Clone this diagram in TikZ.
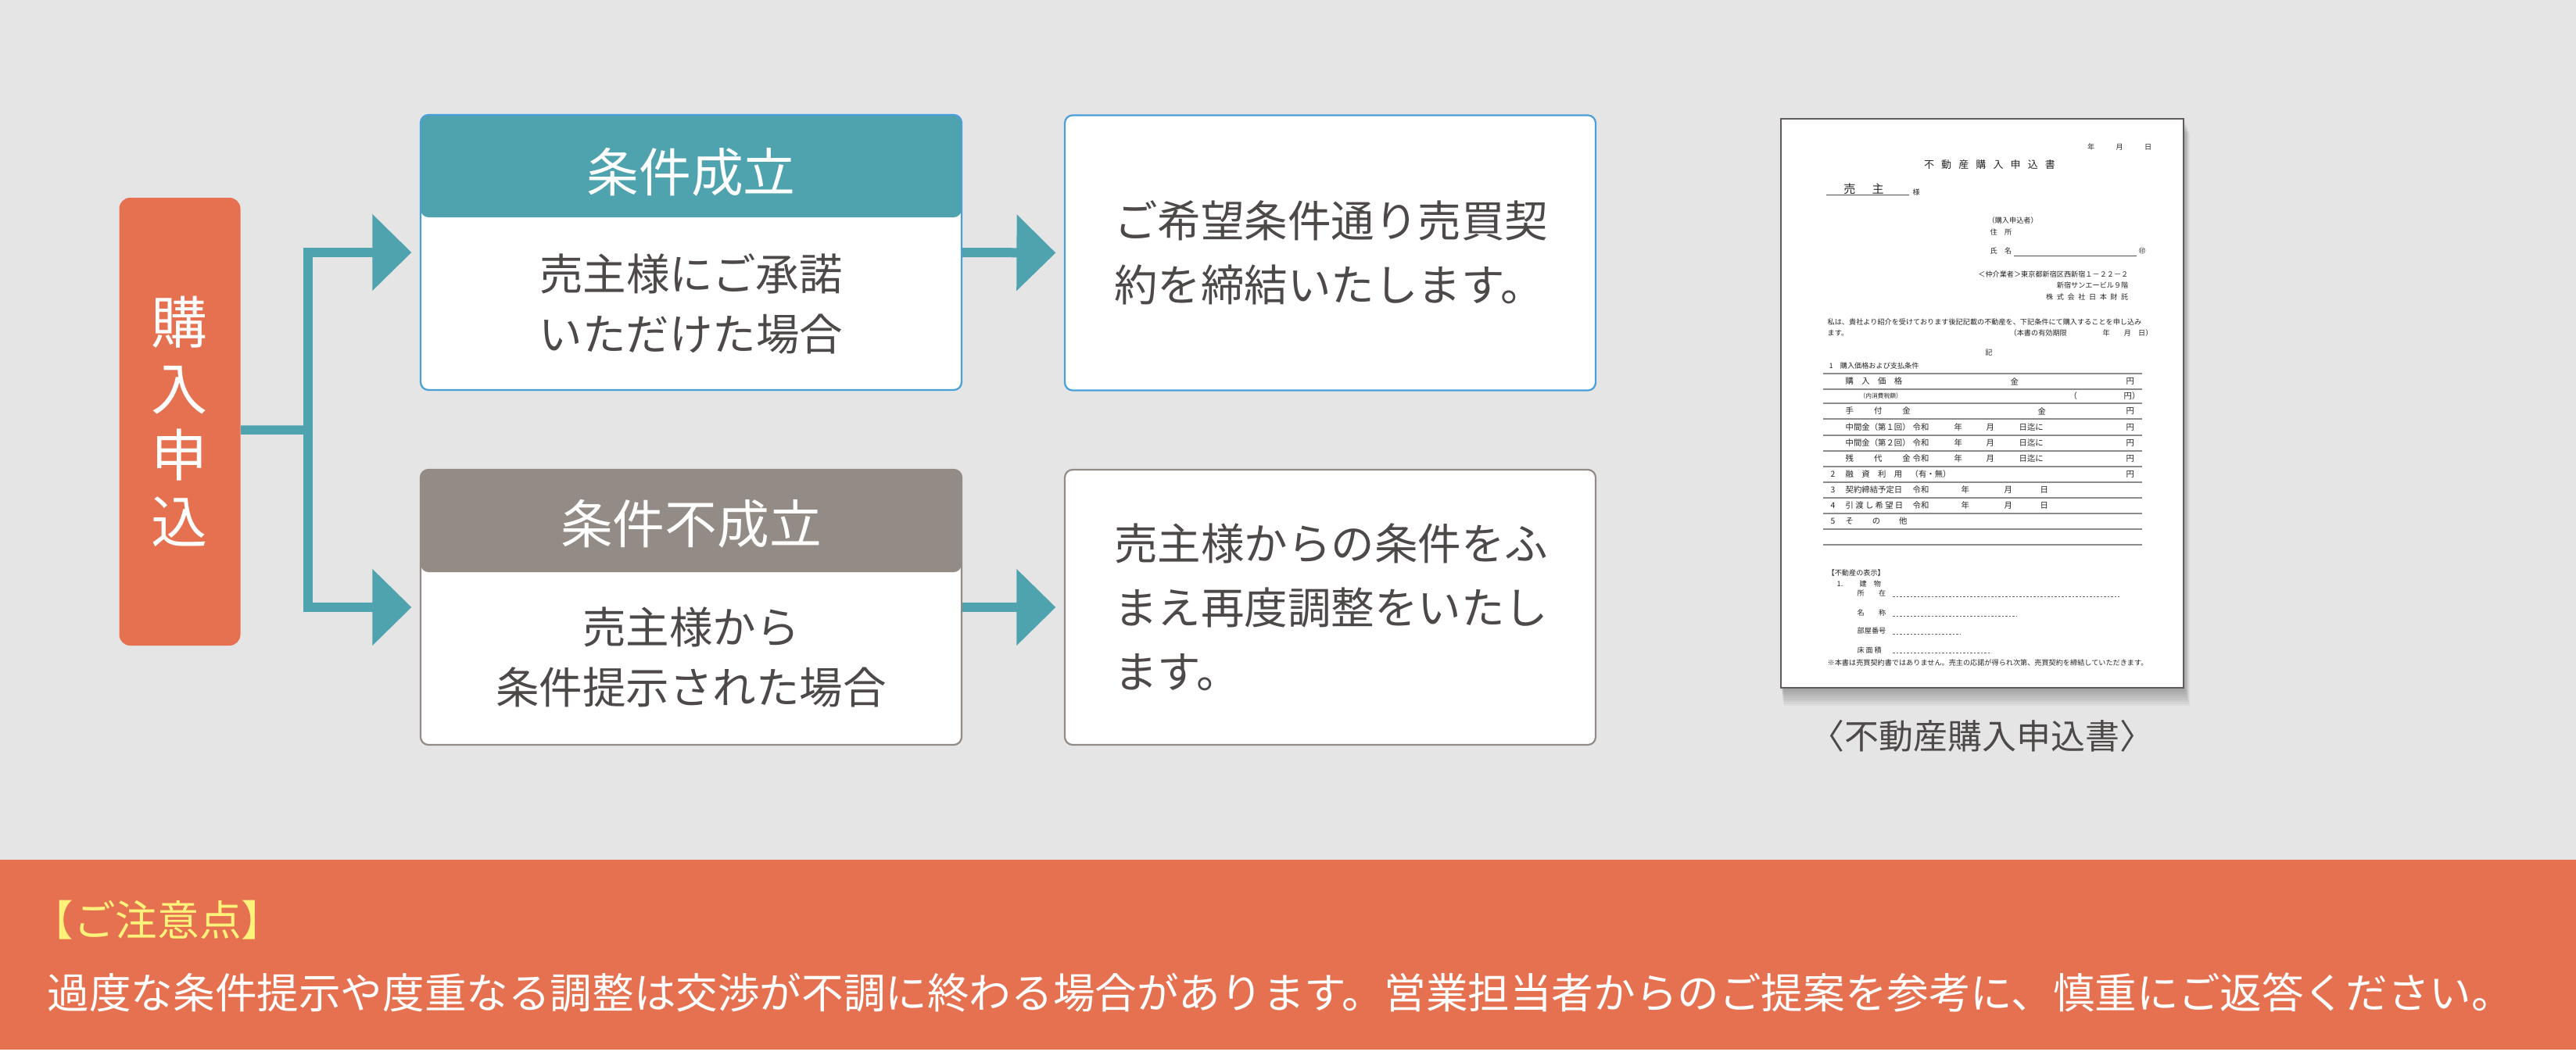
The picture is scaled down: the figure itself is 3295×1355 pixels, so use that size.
\documentclass[tikz,border=0pt]{standalone}
\usepackage{fontspec}
\setmainfont{Noto Sans CJK JP}
\usetikzlibrary{arrows.meta,positioning}

\definecolor{bgGray}{HTML}{E5E5E5}
\definecolor{applyOrange}{HTML}{E57150}
\definecolor{flowTeal}{HTML}{4FA3AE}
\definecolor{okBlue}{HTML}{4A9FDA}
\definecolor{ngGray}{HTML}{938B86}
\definecolor{inkGray}{HTML}{4D4948}
\definecolor{noteYellow}{HTML}{FFF27A}
\definecolor{paperEdge}{HTML}{615C5A}

\begin{document}
\begin{tikzpicture}[x=0.1mm, y=-0.1mm,
		card/.style={rectangle, rounded corners=1mm, fill=white, line width=0.22mm,
			minimum width=69.2mm, minimum height=35.2mm, inner sep=0pt},
		head/.style={text=white, font=\fontsize{19pt}{22pt}\selectfont},
		body/.style={text=inkGray, align=center, font=\fontsize{15.8pt}{21.9pt}\selectfont},
		result/.style={card, minimum width=67.9mm, text width=55.3mm, align=left,
			text=inkGray, font=\fontsize{15.8pt}{23.3pt}\selectfont},
		flow/.style={draw=flowTeal, line width=1.2mm, -{Triangle[width=9.5mm, length=5mm]}, shorten >=1.05mm},
		link/.style={draw=flowTeal, line width=1.15mm},
		ft/.style={inner sep=0pt, text=black!85, font=\fontsize{2.6pt}{3pt}\selectfont},
		ftab/.style={ft, font=\fontsize{2.95pt}{3.4pt}\selectfont},
		fline/.style={black!45, line width=0.12mm},
		fdash/.style={black!60, line width=0.07mm, dash pattern=on 0.25mm off 0.2mm}]

	\useasboundingbox (0,0) rectangle (3295,1355);
	\fill[white] (0,0) rectangle (3295,1355);
	\fill[bgGray] (0,0) rectangle (3295,1100);
	\fill[applyOrange] (0,1100) rectangle (3295,1343);

	% flow
	\node[fill=applyOrange, rounded corners=1.4mm, minimum width=15.5mm, minimum height=57.3mm,
		text=white, align=center, font=\fontsize{20.5pt}{24.2pt}\selectfont] (apply) at (230,539.5) {購\\入\\申\\込};

	\node[card, draw=okBlue, path picture={\fill[flowTeal] (path picture bounding box.north west)
		rectangle ([yshift=-13.1mm]path picture bounding box.north east);}] (okbox) at (884,323) {};
	\node[head] (okhead) at (884,220) {条件成立};
	\node[body] (okbody) at (884,388.5) {売主様にご承諾\\いただけた場合};

	\node[card, draw=ngGray, path picture={\fill[ngGray] (path picture bounding box.north west)
		rectangle ([yshift=-13.1mm]path picture bounding box.north east);}] (ngbox) at (884,777) {};
	\node[head] (nghead) at (884,670) {条件不成立};
	\node[body] (ngbody) at (884,841) {売主様から\\条件提示された場合};

	\node[result, draw=okBlue] (okres) at (1701.5,323.5) {ご希望条件通り売買契\\約を締結いたします。};
	\node[result, draw=ngGray] (ngres) at (1701.5,777) {売主様からの条件をふ\\まえ再度調整をいたし\\ます。};

	\coordinate (split) at (394,550);
	\draw[link] ([yshift=-1.05mm]apply.east) -- (split);
	\draw[flow] (split) |- (okbox.west);
	\draw[flow] (split) |- (ngbox.west);
	\draw[flow] (okbox.east) -- (okres.west);
	\draw[flow] (ngbox.east) -- (ngres.west);

	% form
	\foreach \d in {1,...,9}
		\fill[black, opacity=0.035] (2278+\d*0.4,152+\d*2) rectangle (2793+\d*0.9,880+\d*2.6);
	\node[fill=white, draw=paperEdge, line width=0.25mm, minimum width=51.5mm, minimum height=72.8mm,
		inner sep=0pt] (form) at (2535.5,516) {};
	\node[text=inkGray, font=\fontsize{12.5pt}{14pt}\selectfont, below=2.8mm of form] (formcap) {〈不動産購入申込書〉};

	\node[ft, anchor=east] (fdate) at (2753,188) {年　　　月　　　日};
	\node[ft, font=\fontsize{3.7pt}{4pt}\selectfont] (ftitle) at (2545,211)
		{不\kern.7em 動\kern.7em 産\kern.7em 購\kern.7em 入\kern.7em 申\kern.7em 込\kern.7em 書};
	\node[ft, font=\fontsize{4.3pt}{5pt}\selectfont] (fseller) at (2384,242) {売\hspace{1.4em}主};
	\draw[black!70, line width=0.1mm] (2336,249) -- (2442,249);
	\node[ft, anchor=west] (fsama) at (2446,246) {様};
	\node[ft, anchor=west] (fapp) at (2542,282) {（購入申込者）};
	\node[ft, anchor=west] (faddr) at (2545,297) {住　所};
	\node[ft, anchor=west] (fname) at (2545,321) {氏　名};
	\draw[black!70, line width=0.1mm] (2576,327) -- (2733,327);
	\node[ft, anchor=west] (fseal) at (2735,321) {㊞};
	\node[ft, anchor=east] (fbroker) at (2723,351) {＜仲介業者＞東京都新宿区西新宿１－２２－２};
	\node[ft, anchor=east] (fbldg) at (2723,365) {新宿サンエービル９階};
	\node[ft, anchor=east] (fcorp) at (2723,380)
		{株\kern.5em 式\kern.5em 会\kern.5em 社\kern.5em 日\kern.5em 本\kern.5em 財\kern.5em 託};
	\node[ft, anchor=west] (fbody) at (2337,412) {私は、貴社より紹介を受けております後記記載の不動産を、下記条件にて購入することを申し込み};
	\node[ft, anchor=west] (fbody2) at (2337,426) {ます。};
	\node[ft, anchor=west] (flimit) at (2570,426) {（本書の有効期限　　　　　年　　月　日）};
	\node[ft] (fki) at (2544,451) {記};
	\node[ft, anchor=west] (fsec) at (2339,468) {1　購入価格および支払条件};

	\foreach \y in {478,498,516,536,557,577,597,617,637,657,677,697}
		\draw[fline] (2332,\y) -- (2740,\y);

	\node[ftab, anchor=west] (r1a) at (2360,488) {購　入　価　格};
	\node[ftab, anchor=west] (r1b) at (2571,488) {金};
	\node[ftab, anchor=west] (r1c) at (2719,488) {円};
	\node[ft, anchor=west, font=\fontsize{2.2pt}{3pt}\selectfont] (r2a) at (2378,507) {（内消費税額）};
	\node[ftab, anchor=west] (r2b) at (2646,507) {（};
	\node[ftab, anchor=west] (r2c) at (2716,507) {円）};
	\node[ftab, anchor=west] (r3a) at (2360,526) {手\hspace{2.5em}付\hspace{2.5em}金};
	\node[ftab, anchor=west] (r3b) at (2606,526) {金};
	\node[ftab, anchor=west] (r3c) at (2719,526) {円};
	\foreach \y/\t [count=\i] in {547/中間金（第１回）, 567/中間金（第２回）, 587/残\hspace{2.5em}代\hspace{2.5em}金} {
		\node[ftab, anchor=west] (m\i a) at (2360,\y) {\t};
		\node[ftab, anchor=west] (m\i b) at (2446,\y) {令和};
		\node[ftab, anchor=west] (m\i c) at (2499,\y) {年};
		\node[ftab, anchor=west] (m\i d) at (2540,\y) {月};
		\node[ftab, anchor=west] (m\i e) at (2582,\y) {日迄に};
		\node[ftab, anchor=west] (m\i f) at (2719,\y) {円};
	}
	\node[ftab, anchor=west] (r7a) at (2341,607) {2};
	\node[ftab, anchor=west] (r7b) at (2360,607) {融　資　利　用　（有・無）};
	\node[ftab, anchor=west] (r7c) at (2719,607) {円};
	\foreach \y/\n/\t [count=\i] in {627/3/契約締結予定日, 647/4/引\kern.22em 渡\kern.22em し\kern.22em 希\kern.22em 望\kern.22em 日} {
		\node[ftab, anchor=west] (d\i a) at (2341,\y) {\n};
		\node[ftab, anchor=west] (d\i b) at (2360,\y) {\t};
		\node[ftab, anchor=west] (d\i c) at (2446,\y) {令和};
		\node[ftab, anchor=west] (d\i d) at (2508,\y) {年};
		\node[ftab, anchor=west] (d\i e) at (2563,\y) {月};
		\node[ftab, anchor=west] (d\i f) at (2609,\y) {日};
	}
	\node[ftab, anchor=west] (r10a) at (2341,667) {5};
	\node[ftab, anchor=west] (r10b) at (2360,667) {そ\hspace{2.3em}の\hspace{2.3em}他};

	\node[ft, anchor=west] (fdisp) at (2337,733) {【不動産の表示】};
	\node[ft, anchor=west] (fbld1) at (2349,747) {1.};
	\node[ft, anchor=west] (fbld2) at (2378,747) {建　物};
	\node[ft, anchor=west] (floc) at (2375,759) {所　　在};
	\draw[fdash] (2421,763) -- (2711,763);
	\node[ft, anchor=west] (fnm) at (2375,784) {名　　称};
	\draw[fdash] (2421,788) -- (2580,788);
	\node[ft, anchor=west] (froom) at (2375,807) {部屋番号};
	\draw[fdash] (2421,811) -- (2507,811);
	\node[ft, anchor=west] (farea) at (2375,832) {床\kern.2em 面\kern.2em 積};
	\draw[fdash] (2421,835) -- (2547,835);
	\node[ft, anchor=west] (fnote) at (2337,848) {※本書は売買契約書ではありません。売主の応諾が得られ次第、売買契約を締結していただきます。};

	% note
	\node[anchor=west, inner sep=0pt, text=noteYellow, font=\fontsize{15.25pt}{18pt}\selectfont] (notehead) at (40,1177) {【ご注意点】};
	\node[anchor=west, inner sep=0pt, text=white, font=\fontsize{15.25pt}{18pt}\selectfont] (notebody) at (60,1270)
		{過度な条件提示や度重なる調整は交渉が不調に終わる場合があります。営業担当者からのご提案を参考に、慎重にご返答ください。};

\end{tikzpicture}
\end{document}
